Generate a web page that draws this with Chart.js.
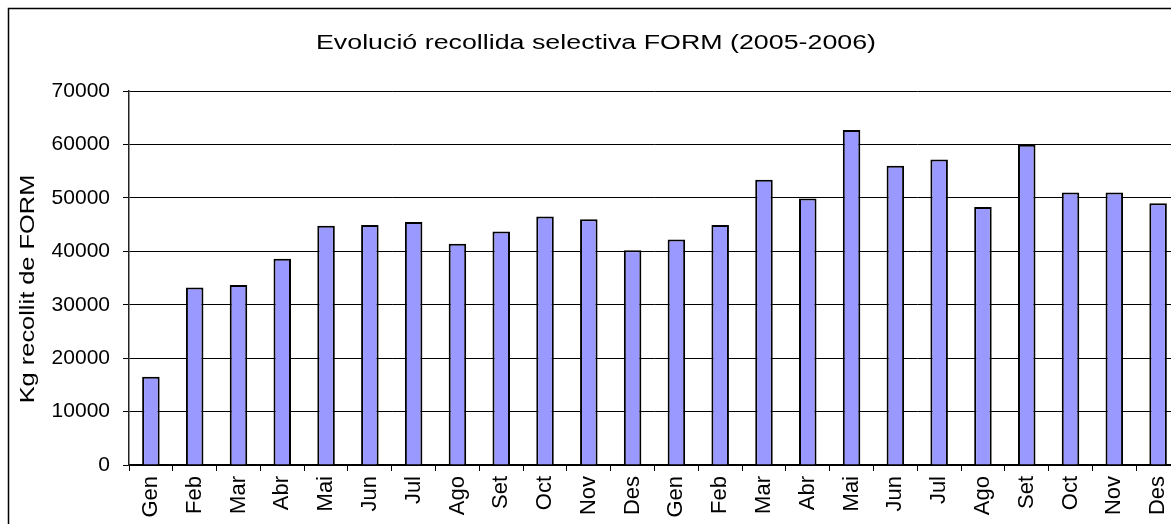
<!DOCTYPE html>
<html>
<head>
<meta charset="utf-8">
<script src="https://cdn.jsdelivr.net/npm/chart.js@4.4.0/dist/chart.umd.min.js"></script>
<style>
  html, body { margin: 0; padding: 0; overflow: hidden; background: #fff; }
  #wrap { position: absolute; left: 0; top: 0; width: 1200px; height: 540px; }
</style>
</head>
<body>
<div id="wrap"><canvas id="myChart" width="1200" height="540"></canvas></div>
<script>
// data
const months = ["Gen", "Feb", "Mar", "Abr", "Mai", "Jun", "Jul", "Ago", "Set", "Oct", "Nov", "Des",
                "Gen", "Feb", "Mar", "Abr", "Mai", "Jun", "Jul", "Ago", "Set", "Oct", "Nov", "Des"];
const kgForm = [16500, 33200, 33700, 38600, 44800, 44900, 45500, 41400, 43700, 46500, 46000, 40200,
                42200, 44900, 53400, 49900, 62700, 56000, 57200, 48300, 59950, 51000, 51000, 49000];
const yTicksMax = 70000;
const yTicksStep = 10000;
const chartTitle = "Evolució recollida selectiva FORM (2005-2006)";
const yTitle = "Kg recollit de FORM";

const fontFamily = "'Liberation Sans', Arial, sans-serif";

// frame + stretched title texts, the way the original (excel) rendered them
const frameAndTitles = {
    id: 'frameAndTitles',
    afterDraw(chart) {
        let c = chart.ctx;
        c.save();
        c.strokeStyle = '#000';
        c.lineWidth = 1.5;
        c.strokeRect(8.5, 8.5, 1176, 600);

        c.fillStyle = '#000';
        c.font = "20px " + fontFamily;
        c.textBaseline = 'alphabetic';
        c.textAlign = 'center';

        // chart title
        c.save();
        c.translate(596, 49);
        c.scale(1.34, 1);
        c.fillText(chartTitle, 0, 0);
        c.restore();

        // y axis title
        c.save();
        c.translate(34, 289);
        c.rotate(-Math.PI / 2);
        c.scale(1.27, 1);
        c.fillText(yTitle, 0, 0);
        c.restore();

        c.restore();
    }
};

let ctx = document.getElementById("myChart");

let myChart = new Chart(ctx, {
    type: 'bar',
    data: {
        labels: months,
        datasets: [{
            data: kgForm,
            backgroundColor: '#9999FF',
            borderColor: '#000000',
            borderWidth: 2,
            barPercentage: 0.4,
            categoryPercentage: 1.0
        }]
    },
    options: {
        responsive: false,
        animation: false,
        layout: {
            padding: { left: 0, top: 91, right: 20, bottom: 0 }
        },
        plugins: {
            legend: { display: false },
            title: { display: false },
            tooltip: { enabled: false }
        },
        scales: {
            x: {
                afterFit: (scale) => { scale.height = 75; },
                grid: {
                    offset: true,
                    drawOnChartArea: false,
                    drawTicks: true,
                    tickLength: 6,
                    color: '#000'
                },
                border: { color: '#000', width: 1.5 },
                ticks: {
                    autoSkip: false,
                    minRotation: 90,
                    maxRotation: 90,
                    padding: 5,
                    color: '#000',
                    font: { family: fontFamily, size: 22 }
                }
            },
            y: {
                min: 0,
                max: yTicksMax,
                afterFit: (scale) => { scale.width = 129; },
                grid: {
                    color: '#000',
                    lineWidth: 1,
                    drawTicks: true,
                    tickLength: 6
                },
                border: { color: '#222', width: 1.5 },
                ticks: {
                    stepSize: yTicksStep,
                    padding: 13,
                    color: '#000',
                    font: { family: fontFamily, size: 21 },
                    callback: (value) => String(value)
                }
            }
        }
    },
    plugins: [frameAndTitles]
});
</script>
</body>
</html>
